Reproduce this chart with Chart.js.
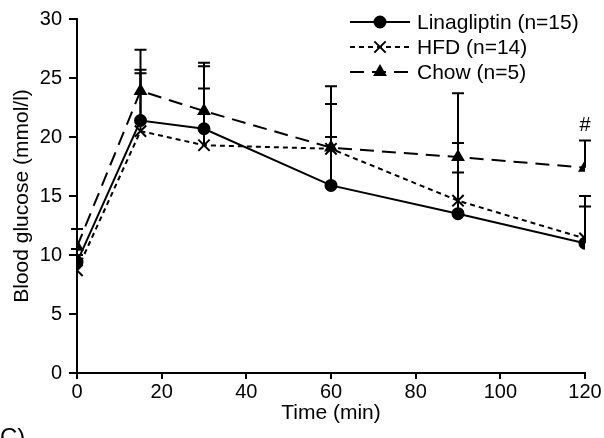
<!DOCTYPE html>
<html>
<head>
<meta charset="utf-8">
<script src="https://cdn.jsdelivr.net/npm/chart.js@4/dist/chart.umd.min.js"></script>
<style>
html,body{margin:0;padding:0;background:#fff;}
#wrap{width:604px;height:438px;position:relative;}
</style>
</head>
<body>
<div id="wrap"><canvas id="c" width="604" height="438"></canvas></div>
<script>
const times = [0, 15, 30, 60, 90, 120];
const linaValues = [9.4, 21.4, 20.7, 15.9, 13.5, 11.0];
const hfdValues = [8.7, 20.5, 19.3, 19.0, 14.6, 11.4];
const chowValues = [10.7, 23.9, 22.2, 19.1, 18.3, 17.4];
const linaErr = [1.1, 4.3, 5.3, 4.1, 3.5, 3.1];
const hfdErr = [1.3, 4.9, 7.0, 5.3, 9.1, 3.6];
const chowErr = [1.5, 3.5, 1.9, 3.7, 1.2, 2.3];
const seriesNames = ['Linagliptin (n=15)', 'HFD (n=14)', 'Chow (n=5)'];
const xTicks = [0, 20, 40, 60, 80, 100, 120];
const yTicks = [0, 5, 10, 15, 20, 25, 30];
const xTitle = 'Time (min)';
const yTitle = 'Blood glucose (mmol/l)';

const FONT = '"Liberation Sans", Arial, sans-serif';
const toPts = (vals) => vals.map((v, i) => ({x: times[i], y: v}));

const dashStyles = [[], [5, 4], [14, 8]];
const pointStyles = ['circle', 'crossRot', 'triangle'];
const pointSizes = [5.5, 8, 6];

const errorBars = {
  id: 'errorBars',
  afterDatasetsDraw(chart) {
    const ctx = chart.ctx;
    const xs = chart.scales.x, ys = chart.scales.y;
    ctx.save();
    ctx.strokeStyle = '#000';
    ctx.lineWidth = 2;
    ctx.setLineDash([]);
    chart.data.datasets.forEach(ds => {
      ds.data.forEach((p, i) => {
        const e = ds.errors[i];
        const px = xs.getPixelForValue(p.x);
        const y0 = ys.getPixelForValue(p.y);
        const y1 = ys.getPixelForValue(p.y + e);
        ctx.beginPath();
        ctx.moveTo(px, y0); ctx.lineTo(px, y1);
        ctx.moveTo(px - 6, y1); ctx.lineTo(px + 6, y1);
        ctx.stroke();
      });
    });
    const hx = xs.getPixelForValue(times[5]);
    const hy = ys.getPixelForValue(chowValues[5] + chowErr[5]);
    ctx.fillStyle = '#000';
    ctx.font = '20px ' + FONT;
    ctx.textAlign = 'center';
    ctx.textBaseline = 'bottom';
    ctx.fillText('#', hx, hy - 5);
    ctx.restore();
  }
};

const customLegend = {
  id: 'customLegend',
  afterDraw(chart) {
    const ctx = chart.ctx;
    ctx.save();
    const x0 = 350, x1 = 410, tx = 417;
    const rows = [22, 47, 72];
    chart.data.datasets.forEach((ds, i) => {
      const y = rows[i];
      ctx.strokeStyle = '#000';
      ctx.lineWidth = 2;
      ctx.setLineDash(dashStyles[i]);
      ctx.beginPath();
      ctx.moveTo(x0, y); ctx.lineTo(x1, y);
      ctx.stroke();
      ctx.setLineDash([]);
      ctx.fillStyle = '#000';
      Chart.helpers.drawPoint(ctx, {pointStyle: pointStyles[i], radius: pointSizes[i], borderWidth: 2, rotation: 0}, (x0 + x1) / 2, y);
      ctx.font = '21px ' + FONT;
      ctx.textAlign = 'left';
      ctx.textBaseline = 'middle';
      ctx.fillText(seriesNames[i], tx, y + 1);
    });
    ctx.font = '24px ' + FONT;
    ctx.textBaseline = 'alphabetic';
    ctx.fillText('C)', 0, 445);
    ctx.restore();
  }
};

const mk = (name, vals, errs, i) => ({
  label: name,
  data: toPts(vals),
  errors: errs,
  borderColor: '#000',
  backgroundColor: '#000',
  borderWidth: 2,
  borderDash: dashStyles[i],
  pointStyle: pointStyles[i],
  pointRadius: pointSizes[i],
  pointBorderWidth: 2,
  pointBackgroundColor: '#000',
  pointBorderColor: '#000',
  tension: 0,
  fill: false
});

new Chart(document.getElementById('c'), {
  type: 'line',
  data: {
    datasets: [
      mk(seriesNames[0], linaValues, linaErr, 0),
      mk(seriesNames[1], hfdValues, hfdErr, 1),
      mk(seriesNames[2], chowValues, chowErr, 2)
    ]
  },
  options: {
    responsive: false,
    animation: false,
    devicePixelRatio: 1,
    layout: {padding: {left: 6, right: 19, top: 18, bottom: 8}},
    plugins: {legend: {display: false}, tooltip: {enabled: false}},
    scales: {
      x: {
        type: 'linear', min: 0, max: 120,
        afterBuildTicks: (s) => { s.ticks = xTicks.map(v => ({value: v})); },
        afterFit: (s) => { s.height = 57; },
        grid: {display: true, drawOnChartArea: false, drawTicks: true, tickLength: 6, color: '#000', lineWidth: 2},
        border: {display: true, color: '#000', width: 2},
        ticks: {color: '#000', font: {family: FONT, size: 20}, padding: 1, maxRotation: 0},
        title: {display: true, text: xTitle, color: '#000', font: {family: FONT, size: 21}, padding: {top: 0, bottom: 4}}
      },
      y: {
        type: 'linear', min: 0, max: 30,
        afterBuildTicks: (s) => { s.ticks = yTicks.map(v => ({value: v})); },
        afterFit: (s) => { s.width = 71; },
        grid: {display: true, drawOnChartArea: false, drawTicks: true, tickLength: 8, color: '#000', lineWidth: 2},
        border: {display: true, color: '#000', width: 2},
        ticks: {color: '#000', font: {family: FONT, size: 20}, padding: 7},
        title: {display: true, text: yTitle, color: '#000', font: {family: FONT, size: 21}, padding: {top: 4, bottom: 0}}
      }
    }
  },
  plugins: [errorBars, customLegend]
});
</script>
</body>
</html>
